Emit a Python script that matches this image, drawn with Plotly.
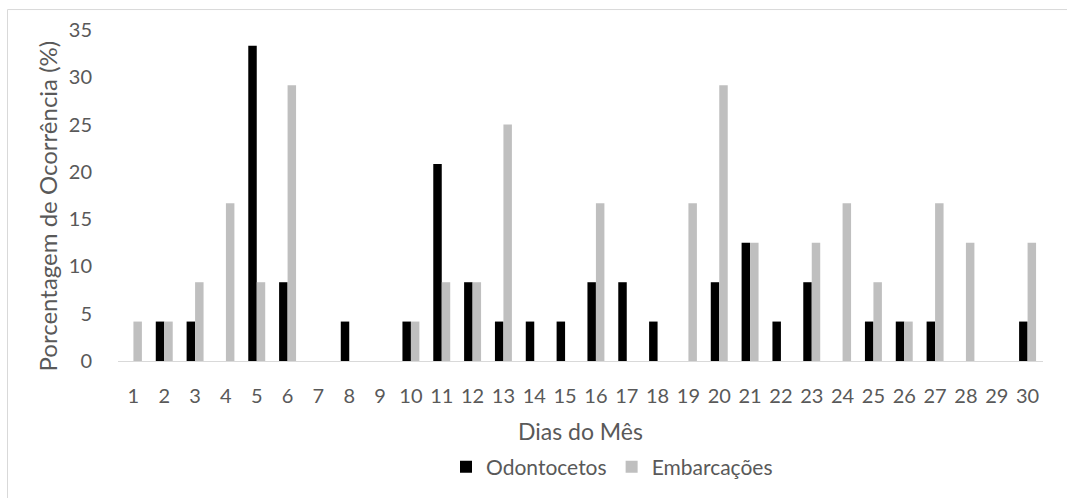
import plotly.graph_objects as go

# Day of month (categories)
dias = [str(d) for d in range(1, 31)]

# Percentage of occurrence per day
odontocetos = [0, 4.17, 4.17, 0, 33.33, 8.33, 0, 4.17, 0, 4.17,
               20.83, 8.33, 4.17, 4.17, 4.17, 8.33, 8.33, 4.17, 0, 8.33,
               12.5, 4.17, 8.33, 0, 4.17, 4.17, 4.17, 0, 0, 4.17]
embarcacoes = [4.17, 4.17, 8.33, 16.67, 8.33, 29.17, 0, 0, 0, 4.17,
               8.33, 8.33, 25.0, 0, 0, 16.67, 0, 0, 16.67, 29.17,
               12.5, 0, 12.5, 16.67, 8.33, 4.17, 16.67, 12.5, 0, 12.5]

y_ticks = [0, 5, 10, 15, 20, 25, 30, 35]

FONT = "Lato"
TXT = "#595959"

fig = go.Figure()
fig.add_trace(go.Bar(x=dias, y=odontocetos, name="Odontocetos",
                     marker=dict(color="#000000", line=dict(width=0))))
fig.add_trace(go.Bar(x=dias, y=embarcacoes, name="Embarcações",
                     marker=dict(color="#bfbfbf", line=dict(width=0))))

L, R, T, B = 118, 24, 30, 136
W, H = 1067, 498
pw, ph = W - L - R, H - T - B

def px_x(p):
    return (p - L) / pw

def px_y(p):
    return (H - B - p) / ph

fig.update_layout(
    width=W, height=H,
    margin=dict(l=L, r=R, t=T, b=B),
    paper_bgcolor="white", plot_bgcolor="white",
    barmode="group", bargap=0.45, bargroupgap=0,
    font=dict(family=FONT, color=TXT, size=20),
    showlegend=True,
    legend=dict(orientation="h", x=px_x(612), xanchor="center",
                y=px_y(467), yanchor="middle",
                font=dict(family=FONT, size=21, color=TXT),
                tracegroupgap=0),
    xaxis=dict(
        type="category",
        showgrid=False,
        showline=True, linecolor="#d9d9d9", linewidth=1,
        ticks="", ticklabelstandoff=17,
        tickfont=dict(family=FONT, size=20, color=TXT),
    ),
    yaxis=dict(
        range=[0, 35],
        tickvals=y_ticks,
        showgrid=False, zeroline=False, showline=False,
        ticks="", ticklabelstandoff=25,
        tickfont=dict(family=FONT, size=20, color=TXT),
    ),
    annotations=[
        dict(text="Dias do Mês", xref="paper", yref="paper",
             x=px_x(580), y=px_y(432), xanchor="center", yanchor="middle",
             showarrow=False, font=dict(family=FONT, size=23, color=TXT)),
        dict(text="Porcentagem de Ocorrência (%)", xref="paper", yref="paper",
             x=px_x(47), y=px_y(207), xanchor="center", yanchor="middle",
             textangle=-90, showarrow=False,
             font=dict(family=FONT, size=24, color=TXT)),
    ],
    shapes=[
        dict(type="rect", xref="paper", yref="paper",
             x0=px_x(7.5), x1=px_x(1075), y0=px_y(510), y1=px_y(9.5),
             line=dict(color="#d9d9d9", width=1), layer="below"),
    ],
)

fig.write_html("out.html")
